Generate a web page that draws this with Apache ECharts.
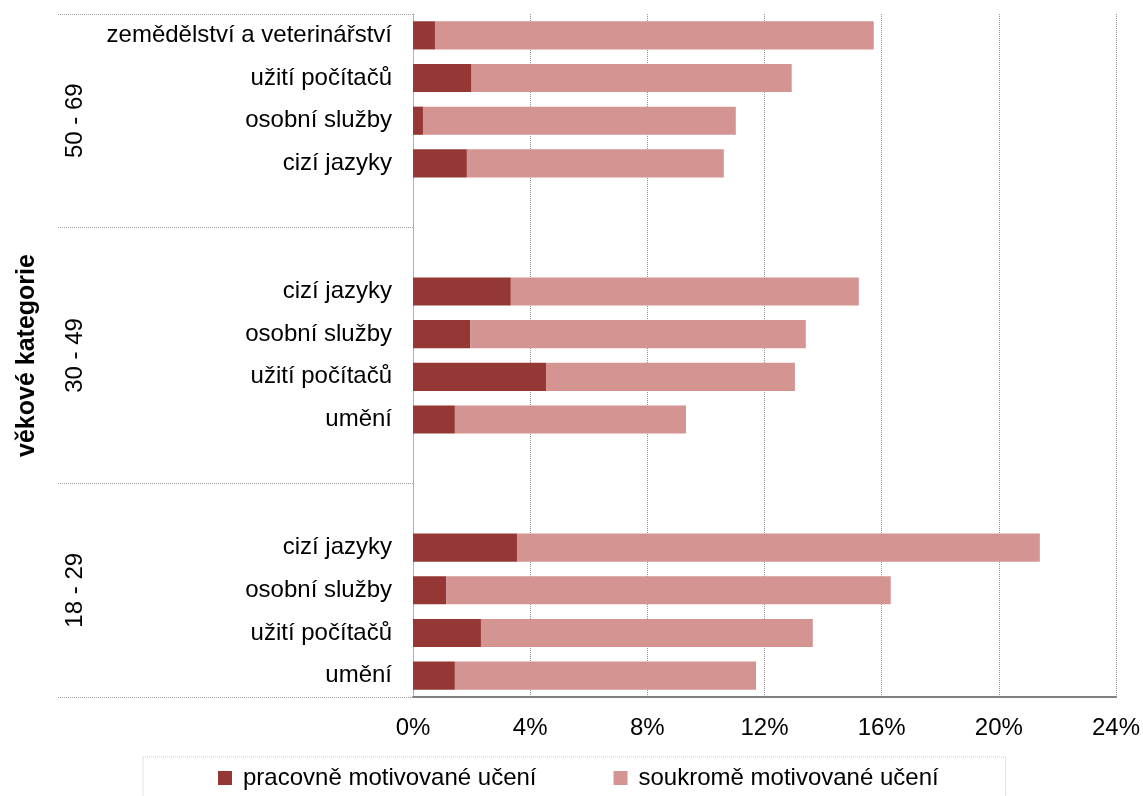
<!DOCTYPE html>
<html>
<head>
<meta charset="utf-8">
<script src="https://cdn.jsdelivr.net/npm/echarts@6/dist/echarts.min.js"></script>
<style>html,body{margin:0;padding:0;background:#fff;}#c{width:1143px;height:796px;}</style>
</head>
<body>
<div id="c"></div>
<script>
// Categories listed bottom to top; '' marks the empty gap slots between age groups
const categories = ['umění', 'užití počítačů', 'osobní služby', 'cizí jazyky', '', '',
  'umění', 'užití počítačů', 'osobní služby', 'cizí jazyky', '', '',
  'cizí jazyky', 'osobní služby', 'užití počítačů', 'zemědělství a veterinářství'];
const workLearning = [1.43, 2.32, 1.13, 3.55, null, null, 1.43, 4.54, 1.95, 3.34, null, null, 1.84, 0.34, 2.0, 0.75];
const privateLearning = [10.28, 11.33, 15.18, 17.85, null, null, 7.89, 8.5, 11.46, 11.88, null, null, 8.77, 10.68, 10.93, 14.98];
const seriesNames = ['pracovně motivované učení', 'soukromě motivované učení'];
const groupNames = ['18 - 29', '30 - 49', '50 - 69'];
const groupCenters = [2.5, 8, 13.5];
const groupBounds = [0, 5, 11, 16];
const xTicks = [0, 4, 8, 12, 16, 20, 24];

const font = '"Liberation Sans", Arial, sans-serif';
const chart = echarts.init(document.getElementById('c'));
chart.setOption({
  animation: false,
  textStyle: { fontFamily: font },
  grid: { left: 413, right: 27, top: 14, bottom: 99, containLabel: false },
  legend: {
    data: seriesNames,
    left: 143, top: 757,
    padding: [9, 67, 20, 75],
    itemWidth: 14, itemHeight: 14, itemGap: 77,
    icon: 'rect',
    borderColor: '#c8c8c8', borderWidth: 1, borderType: 'dotted',
    textStyle: { fontSize: 24, color: '#000', fontFamily: font, padding: [0, 0, 0, 6] }
  },
  xAxis: {
    type: 'value', min: xTicks[0], max: xTicks[xTicks.length - 1], interval: 4,
    axisLine: { show: true, lineStyle: { color: '#808080', width: 2 } },
    axisTick: { show: false },
    axisLabel: { formatter: '{value}%', fontSize: 24, color: '#000', margin: 19, fontFamily: font },
    splitLine: { show: true, lineStyle: { color: '#909090', type: 'dotted', width: 1 } }
  },
  yAxis: [
    {
      type: 'category', data: categories, position: 'left',
      axisLine: { show: true, onZero: false, lineStyle: { color: '#a0a0a0', type: 'dotted', width: 1 } },
      axisTick: { show: false },
      axisLabel: { fontSize: 24, color: '#000', margin: 21, fontFamily: font, interval: 0 },
      splitLine: { show: false }
    },
    {
      type: 'value', min: 0, max: 16, position: 'left',
      name: 'věkové kategorie', nameLocation: 'middle', nameRotate: 90, nameGap: 373,
      nameTextStyle: { fontSize: 25, fontWeight: 'bold', color: '#000', fontFamily: font },
      axisLine: { show: false },
      axisTick: { show: true, customValues: groupBounds, length: 356, inside: false,
        lineStyle: { color: '#a0a0a0', type: 'dotted', width: 1 } },
      axisLabel: { show: true, customValues: groupCenters, rotate: 90, margin: 326,
        fontSize: 24, color: '#000', fontFamily: font,
        formatter: function (v) { const i = groupCenters.indexOf(v); return i >= 0 ? groupNames[i] : ''; } },
      splitLine: { show: false }
    }
  ],
  series: [
    { name: seriesNames[0], type: 'bar', stack: 'a', yAxisIndex: 0, barCategoryGap: '34%',
      itemStyle: { color: '#953735' }, data: workLearning },
    { name: seriesNames[1], type: 'bar', stack: 'a', yAxisIndex: 0, barCategoryGap: '34%',
      itemStyle: { color: '#d39492' }, data: privateLearning }
  ]
});
</script>
</body>
</html>
